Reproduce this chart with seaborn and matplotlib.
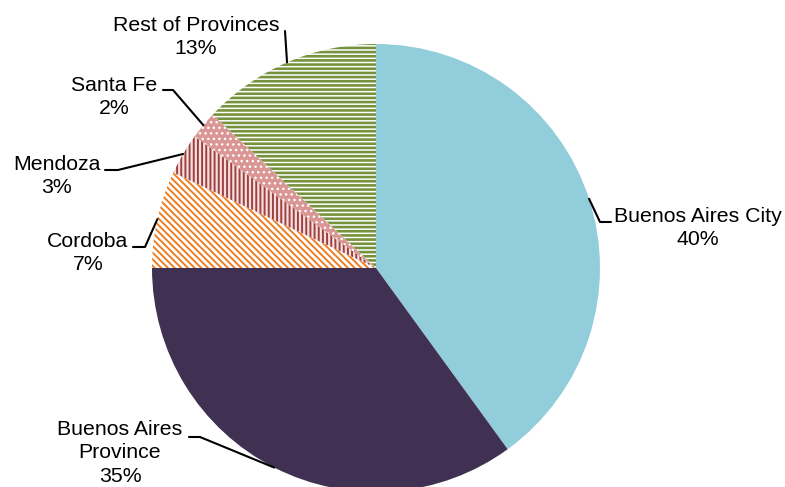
import numpy as np
import matplotlib
matplotlib.use("Agg")
import matplotlib.pyplot as plt
from matplotlib.lines import Line2D
import seaborn as sns

# data
regions = ["Buenos Aires City", "Buenos Aires\nProvince", "Cordoba",
           "Mendoza", "Santa Fe", "Rest of Provinces"]
shares = [40, 35, 7, 3, 2, 13]

# wedge styles (face, hatch colour, hatch, hatch width)
faces = ["#92CDDC", "#403152", "white", "#F4E0E0", "#D99694", "white"]
hatch_cols = ["#92CDDC", "#403152", "#ED7D22", "#A0403E", "white", "#76923C"]
hatches = [None, None, "\\\\\\\\\\", "||||", "...", "----"]
hatch_lw = [1, 1, 1.4, 1.4, 1, 1.9]

# label layout in pixels (y from top): text centre, line start, elbow
text_xy = [(698, 228), (120, 453), (88, 253), (57, 176), (114, 97), (196, 37)]
line_start = [(611, 222), (189, 437), (133, 247), (105, 170), (163, 90), (285, 31)]
line_elbow = [(600, 222), (200, 437), (145, 247), (118, 170), (173, 90), (285, 31)]

sns.set_theme(style="white")
plt.rcParams['font.family'] = ['Liberation Sans', 'DejaVu Sans']
plt.rcParams['hatch.linewidth'] = 1.8

W, H = 785, 487
fig = plt.figure(figsize=(W / 100, H / 100), dpi=100)
cx, cy, r = 376, 268, 224
ax = fig.add_axes([(cx - r) / W, (H - cy - r) / H, 2 * r / W, 2 * r / H])

wedges, _ = ax.pie(shares, startangle=90, counterclock=False,
                   colors=faces, wedgeprops=dict(linewidth=0))
for w, hc, h, lw in zip(wedges, hatch_cols, hatches, hatch_lw):
    w.set_edgecolor(hc)
    w.set_linewidth(0)
    if h:
        w.set_hatch(h)
        if hasattr(w, "set_hatch_linewidth"):
            w.set_hatch_linewidth(lw)
ax.set_xlim(-1, 1)
ax.set_ylim(-1, 1)
ax.set_aspect("equal")

def px2fig(x, y):
    return x / W, (H - y) / H

for i, w in enumerate(wedges):
    mid = np.deg2rad((w.theta1 + w.theta2) / 2)
    ex, ey = ax.transData.transform((np.cos(mid), np.sin(mid)))
    ex, ey = ex / W, ey / H
    sx, sy = px2fig(*line_start[i])
    bx, by = px2fig(*line_elbow[i])
    fig.add_artist(Line2D([sx, bx, ex], [sy, by, ey], color="black",
                          linewidth=1.5, transform=fig.transFigure))
    tx, ty = px2fig(*text_xy[i])
    fig.text(tx, ty, f"{regions[i]}\n{shares[i]}%", ha="center", va="center",
             fontsize=15.3, color="black", linespacing=1.32)

fig.savefig("out.png", dpi=100)
